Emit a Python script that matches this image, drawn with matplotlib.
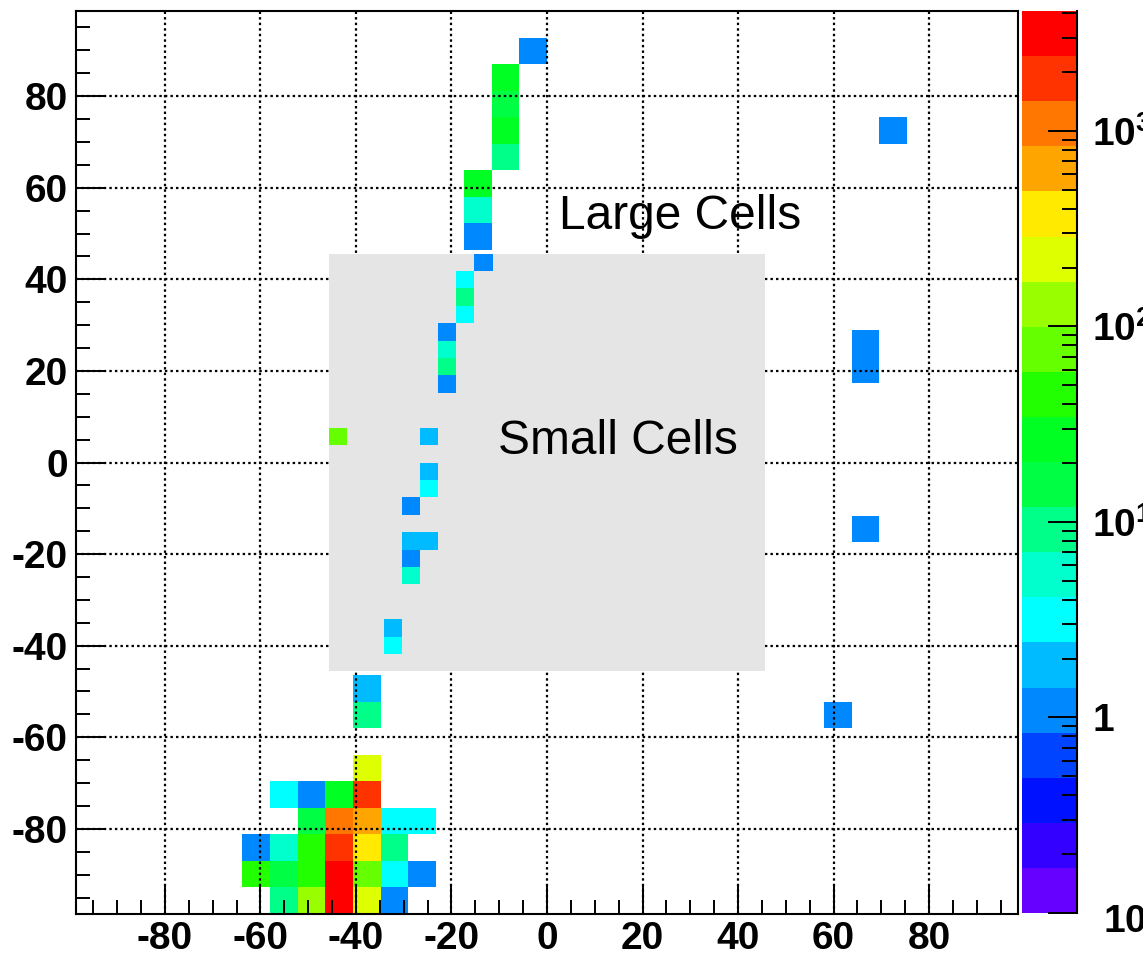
import matplotlib
import numpy as np

matplotlib.use("Agg")
import matplotlib.pyplot as plt
from matplotlib.colors import ListedColormap, LogNorm
from matplotlib.patches import Rectangle
from matplotlib.ticker import FixedLocator, LogLocator, MultipleLocator, FixedFormatter
from matplotlib.transforms import ScaledTranslation

plt.rcParams["font.family"] = ["Liberation Sans", "DejaVu Sans"]
plt.rcParams["axes.unicode_minus"] = False
plt.rcParams["mathtext.fontset"] = "custom"
plt.rcParams["mathtext.default"] = "bf"
plt.rcParams["mathtext.bf"] = "Liberation Sans:bold"
plt.rcParams["mathtext.rm"] = "Liberation Sans:bold"

# cell sizes (cm) and extent of the small-cell insert
LARGE_SIZE = 5.8
SMALL_SIZE = 3.8
N_LARGE = 17   # half-width in large cells
N_SMALL = 12   # half-width in small cells

# large cells: lower-edge indices and energy
large_ix = [-1, -2, -2, -2, -2, -3, -3, -3,
            12, 11, 11, 11, 10,
            -7, -7,
            -7,
            -10, -9, -8, -7,
            -9, -8, -7, -6, -5,
            -11, -10, -9, -8, -7, -6,
            -11, -10, -9, -8, -7, -6, -5,
            -10, -9, -8, -7, -6]
large_iy = [15, 14, 13, 12, 11, 10, 9, 8,
            12, 4, 3, -3, -10,
            -9, -10,
            -12,
            -13, -13, -13, -13,
            -14, -14, -14, -14, -14,
            -15, -15, -15, -15, -15, -15,
            -16, -16, -16, -16, -16, -16, -16,
            -17, -17, -17, -17, -17]
large_val = [1.1, 30, 16, 32, 9.0, 28, 5.5, 1.1,
             1.0, 1.1, 1.2, 1.0, 1.1,
             1.9, 9.5,
             210,
             3.1, 1.1, 30, 1900,
             16, 1100, 650, 3.0, 3.3,
             1.1, 5.2, 42, 1800, 380, 9.8,
             45, 15, 40, 3200, 75, 3.2, 1.1,
             9.5, 135, 3000, 220, 1.1]

# small cells: lower-edge indices and energy
small_ix = [-4, -5, -5, -5, -6, -6, -6, -6,
            -12, -7, -7, -7,
            -8, -8, -7, -8, -8,
            -9, -9]
small_iy = [11, 10, 9, 8, 7, 6, 5, 4,
            1, 1, -1, -2,
            -3, -5, -5, -6, -7,
            -10, -11]
small_val = [1.1, 3.1, 9.2, 3.0, 1.1, 5.3, 9.0, 1.0,
             78, 1.8, 1.9, 3.2,
             1.1, 1.8, 1.9, 1.0, 5.4,
             1.8, 3.0]

palette = ["#6600ff", "#3300ff", "#0011ff", "#0044ff", "#0088ff",
           "#00bbff", "#00ffff", "#00ffcc", "#00ff88", "#00ff44",
           "#00ff22", "#22ff00", "#66ff00", "#99ff00", "#ddff00",
           "#ffea00", "#ffa500", "#ff7700", "#ff3300", "#ff0000"]
z_min, z_max = 0.1, 4100

cbar_ticks = [0.1, 1, 10, 100, 1000]
cbar_labels = [r"$10^{-1}$", "1", r"$10^{1}$", r"$10^{2}$", r"$10^{3}$"]


def fill_grid(ix, iy, val, half):
    grid = np.full((2 * half, 2 * half), np.nan)
    for i, j, v in zip(ix, iy, val):
        grid[j + half, i + half] = v
    return np.ma.masked_invalid(grid)


fig = plt.figure(figsize=(11.43, 9.66), dpi=100)
ax = fig.add_axes([76 / 1143, 52 / 966, 942 / 1143, 903 / 966])
cax = fig.add_axes([1022 / 1143, 53 / 966, 55 / 1143, 902 / 966])

cmap = ListedColormap(palette)
norm = LogNorm(vmin=z_min, vmax=z_max)

large_edges = np.arange(-N_LARGE, N_LARGE + 1) * LARGE_SIZE
small_edges = np.arange(-N_SMALL, N_SMALL + 1) * SMALL_SIZE

mesh = ax.pcolormesh(large_edges, large_edges,
                     fill_grid(large_ix, large_iy, large_val, N_LARGE),
                     cmap=cmap, norm=norm, zorder=1)
ax.add_patch(Rectangle((small_edges[0], small_edges[0]),
                       small_edges[-1] - small_edges[0],
                       small_edges[-1] - small_edges[0],
                       facecolor="#e5e5e5", edgecolor="none", zorder=2))
ax.pcolormesh(small_edges, small_edges,
              fill_grid(small_ix, small_iy, small_val, N_SMALL),
              cmap=cmap, norm=norm, zorder=2.2)

ax.text(2.6, 51.1, "Large Cells", fontsize=34.5, ha="left", va="baseline", zorder=3)
ax.text(-10.3, 1.9, "Small Cells", fontsize=34.5, ha="left", va="baseline", zorder=3)

lim = N_LARGE * LARGE_SIZE
ax.set_xlim(-lim, lim)
ax.set_ylim(-lim, lim)
for axis in (ax.xaxis, ax.yaxis):
    axis.set_major_locator(FixedLocator(np.arange(-80, 81, 20)))
    axis.set_minor_locator(MultipleLocator(5))
ax.tick_params(which="both", direction="in", width=1.4, top=False, right=False,
               labelsize=28)
ax.tick_params(which="major", length=20)
ax.tick_params(which="minor", length=10)
ax.tick_params(axis="x", pad=5)
ax.tick_params(axis="y", pad=6)
for lbl in ax.get_xticklabels() + ax.get_yticklabels():
    lbl.set_fontweight("bold")
for sp in ax.spines.values():
    sp.set_linewidth(1.5)
ax.grid(True, which="major", color="black", linestyle=(0, (1.1, 1.4)), linewidth=1.6)

cbar = fig.colorbar(mesh, cax=cax)
cbar.outline.set_visible(False)
cax.spines["right"].set_visible(True)
cax.spines["right"].set_linewidth(1.5)
cax.yaxis.set_ticks_position("right")
cax.yaxis.set_major_locator(FixedLocator(cbar_ticks))
cax.yaxis.set_major_formatter(FixedFormatter(cbar_labels))
cax.yaxis.set_minor_locator(LogLocator(base=10, subs=np.arange(2, 10)))
cax.tick_params(which="both", direction="in", width=1.4, labelsize=28, pad=11)
cax.tick_params(which="major", length=21)
cax.tick_params(which="minor", length=11)
cax.set_ylim(z_min, z_max)
fig.canvas.draw()
for lbl in cax.get_yticklabels():
    lbl.set_fontweight("bold")
low = cax.get_yticklabels()[0]
low.set_transform(low.get_transform() + ScaledTranslation(0.11, -0.05, fig.dpi_scale_trans))

fig.savefig("out.png", dpi=100)
plt.close(fig)
